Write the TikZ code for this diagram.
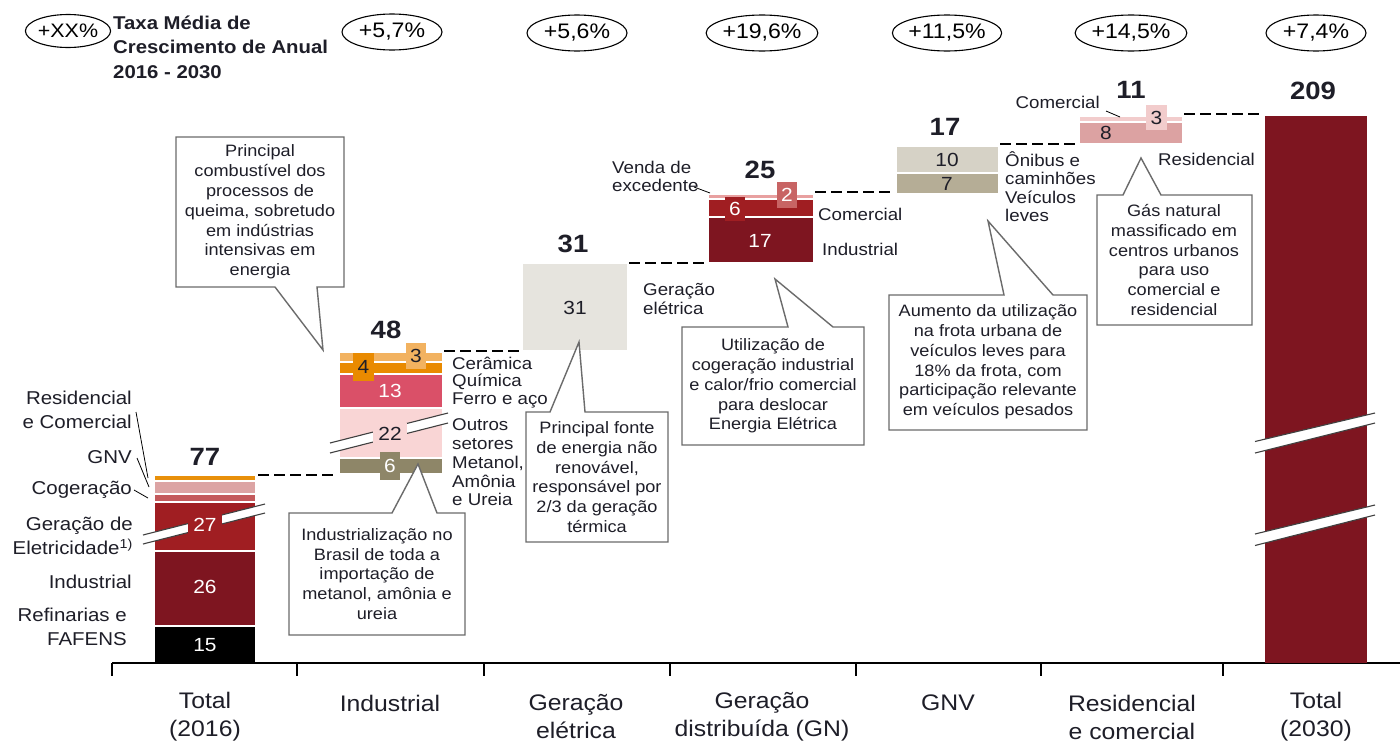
\documentclass[tikz,border=0pt]{standalone}
\usepackage{fontspec}
\setmainfont{Liberation Sans}[FakeStretch=1.1]
\usetikzlibrary{shapes.geometric}
\definecolor{txt}{HTML}{1E1E28}
\definecolor{cDark}{HTML}{7E1520}
\definecolor{cRed}{HTML}{A01E22}
\definecolor{cCog}{HTML}{C45A5C}
\definecolor{cPinkRC}{HTML}{DCA4A4}
\definecolor{cOrange}{HTML}{E8900A}
\definecolor{cOlive}{HTML}{8E8668}
\definecolor{cLtPink}{HTML}{F9D5D5}
\definecolor{cRose}{HTML}{DA5068}
\definecolor{cOrangeB}{HTML}{E98A00}
\definecolor{cLtOrange}{HTML}{F2B260}
\definecolor{cGray}{HTML}{E6E4DE}
\definecolor{cGnvA}{HTML}{D6D2C6}
\definecolor{cGnvB}{HTML}{B5AD96}
\definecolor{cResA}{HTML}{DCA2A2}
\definecolor{cResB}{HTML}{F2CCCC}
\definecolor{cGNtop}{HTML}{E8A0A0}
\definecolor{cGNbox}{HTML}{C86464}
\definecolor{cBorder}{HTML}{6B6B6B}
\newcommand\fsz[2]{\fontsize{#1}{#2}\selectfont}
\newcommand\brkband[6]{%
  \fill[white] (#1,#2) -- (#4,#5) -- (#4,#6) -- (#1,#3) -- cycle;
  \draw[brkline] (#1,#2) -- (#4,#5);
  \draw[brkline] (#1,#3) -- (#4,#6);}
\begin{document}
\begin{tikzpicture}[x=1pt,y=-1pt,
  brkline/.style={black!75,line width=1.1pt},
  lblL/.style={font=\fsz{18.6}{23.5},text=txt,align=right,anchor=east,inner sep=0pt},
  lblR/.style={font=\fsz{17}{18.5},text=txt,align=left,anchor=west,inner sep=0pt},
  cat/.style={font=\fsz{22.5}{28},text=txt,align=center,inner sep=0pt},
  tot/.style={font=\bfseries\fsz{25}{28},text=txt,inner sep=0pt},
  valw/.style={font=\fsz{19}{20},text=white,inner sep=0pt},
  vald/.style={font=\fsz{19}{20},text=txt,inner sep=0pt},
  rate/.style={ellipse,draw=black,line width=1.1pt,minimum width=100pt,minimum height=36pt,inner sep=0pt,font=\fsz{21}{24},text=black},
  calltext/.style={font=\fsz{16.5}{19.8},text=txt,align=center,inner sep=0pt},
  callbox/.style={draw=cBorder,fill=white,line width=1.4pt,line join=miter},
  dashline/.style={black,line width=1.8pt,dash pattern=on 11pt off 5pt},
  leader/.style={black,line width=0.8pt}]
\useasboundingbox (0,0) rectangle (1400,747);
\fill[white] (0,0) rectangle (1400,747);

% ---------- header ----------
\node[rate,minimum width=68pt,minimum height=33pt,font=\fsz{19.5}{22}] (rXX) at (68,31) {+XX\%};
\node[font=\bfseries\fsz{18.5}{24.5},text=txt,align=left,anchor=west,inner sep=0pt] (hdr) at (113,47) {Taxa Média de\\Crescimento de Anual\\2016 - 2030};
\node[rate] (r1) at (392,32) {+5,7\%};
\node[rate] (r2) at (577,33) {+5,6\%};
\node[rate] (r3) at (762,33) {+19,6\%};
\node[rate] (r4) at (947,33) {+11,5\%};
\node[rate] (r5) at (1131,33) {+14,5\%};
\node[rate] (r6) at (1316,33) {+7,4\%};

% ---------- axis ----------
\draw[black,line width=1.2pt] (112,663) -- (1400,663);
\foreach \tx in {112,297,484,670,856,1041,1223} {\draw[black,line width=1.2pt] (\tx,663) -- (\tx,676);}
\node[cat] (x1) at (205,717) {Total\\(2016)};
\node[cat] (x2) at (390,703) {Industrial};
\node[cat] (x3) at (576,717) {Geração\\elétrica};
\node[cat] (x4) at (762,717) {Geração\\distribuída (GN)};
\node[cat] (x5) at (948,703) {GNV};
\node[cat] (x6) at (1132,717) {Residencial\\e comercial};
\node[cat] (x7) at (1316,717) {Total\\(2030)};

% ---------- bar 1: Total 2016 ----------
\fill[cOrange] (155,476) rectangle (255,479.5);
\fill[cPinkRC] (155,482) rectangle (255,493);
\fill[cCog] (155,495) rectangle (255,500.5);
\fill[cRed] (155,502.5) rectangle (255,549.5);
\fill[cDark] (155,551.5) rectangle (255,624.5);
\fill[black] (155,626.5) rectangle (255,663);
\brkband{143}{535}{544}{265}{504}{513}
\node[valw,fill=cRed,inner xsep=5pt,inner ysep=4pt] (v27) at (205,525) {27};
\node[valw] (v26) at (205,587) {26};
\node[valw] (v15) at (205,645) {15};
\node[tot] (t77) at (205,457) {77};
\node[lblL] (lRC) at (132,410) {Residencial\\e Comercial};
\node[lblL] (lGNV) at (132,457) {GNV};
\node[lblL] (lCog) at (132,490) {Cogeração};
\node[lblL] (lGer) at (133,536) {Geração de\\Eletricidade\textsuperscript{1)}};
\node[lblL] (lInd) at (132,582) {Industrial};
\node[lblL] (lRef) at (127,627) {Refinarias e\\FAFENS};
\coordinate (pRC) at (148,478);
\coordinate (pGNV) at (149,487);
\coordinate (pCog) at (148,498);
\draw[leader] (136,412) -- (pRC);
\draw[leader] (137,458) -- (pGNV);
\draw[leader] (lCog.east) ++(2,0) -- (pCog);

% ---------- bar 2: Industrial ----------
\fill[cLtOrange] (340,353) rectangle (442,360.5);
\fill[cOrangeB] (340,363) rectangle (442,373);
\fill[cRose] (340,375) rectangle (442,407);
\fill[cLtPink] (340,409) rectangle (442,457);
\fill[cOlive] (340,459) rectangle (442,473);
\brkband{330}{443}{453}{448}{413}{423}
\fill[cLtOrange] (406,343) rectangle (426,369);
\fill[cOrangeB] (353,353) rectangle (374,381);
\fill[cOlive] (380,452) rectangle (400,480);
\node[vald] (v3i) at (416,356) {3};
\node[vald] (v4i) at (363.5,367) {4};
\node[valw] (v13) at (390,391) {13};
\node[vald,fill=cLtPink,inner xsep=5pt,inner ysep=4pt] (v22) at (390,434) {22};
\node[valw] (v6i) at (390,466) {6};
\node[tot] (t48) at (386,330) {48};
\node[lblR] (lCer) at (452,363) {Cerâmica};
\node[lblR] (lQui) at (452,382) {Química};
\node[lblR] (lFer) at (452,400) {Ferro e aço};
\node[lblR] (lOut) at (452,434) {Outros\\setores};
\node[lblR] (lMet) at (452,481) {Metanol,\\Amônia\\e Ureia};

% ---------- bar 3: Geração elétrica ----------
\fill[cGray] (523,264) rectangle (627,350);
\node[vald] (v31) at (575,308) {31};
\node[tot] (t31) at (573,244) {31};
\node[lblR] (lGe) at (643,299) {Geração\\elétrica};

% ---------- bar 4: Geração distribuída ----------
\fill[cGNtop] (709,195) rectangle (813,198);
\fill[cRed] (709,200) rectangle (813,216);
\fill[cDark] (709,218) rectangle (813,262);
\fill[cRed] (725,197) rectangle (745,221);
\fill[cGNbox] (777,182) rectangle (797,208);
\node[valw] (v6g) at (735,209) {6};
\node[valw] (v2g) at (787,195) {2};
\node[valw] (v17g) at (760,241) {17};
\node[tot] (t25) at (760,170) {25};
\node[lblR] (lCom) at (818,214) {Comercial};
\node[lblR] (lIndg) at (822,249) {Industrial};
\node[lblR] (lVen) at (612,176.5) {Venda de\\excedente};
\coordinate (pVen) at (710,193);
\draw[leader] (694,187) -- (pVen);

% ---------- bar 5: GNV ----------
\fill[cGnvA] (897,147) rectangle (998,172);
\fill[cGnvB] (897,174) rectangle (998,193);
\node[vald] (v10) at (947,160) {10};
\node[vald] (v7) at (947,184) {7};
\node[tot] (t17) at (945,127) {17};
\node[lblR] (lOni) at (1005,168) {Ônibus e\\caminhões};
\node[lblR] (lVei) at (1005,206.5) {Veículos\\leves};

% ---------- bar 6: Residencial e comercial ----------
\fill[cResB] (1080,117) rectangle (1182,121);
\fill[cResA] (1080,123) rectangle (1182,143);
\fill[cResB] (1146,105) rectangle (1167,130);
\node[vald] (v8) at (1106,133) {8};
\node[vald] (v3r) at (1156.5,118) {3};
\node[tot] (t11) at (1131,90) {11};
\node[lblR,anchor=east] (lComr) at (1100,102) {Comercial};
\node[lblR] (lRes) at (1158,159) {Residencial};
\coordinate (pComr) at (1120,117);
\draw[leader] (1106,111) -- (pComr);

% ---------- bar 7: Total 2030 ----------
\fill[cDark] (1265,116) rectangle (1367,663);
\brkband{1255}{441.5}{453}{1375}{413}{423}
\brkband{1255}{534}{545.5}{1375}{505}{515}
\node[tot] (t209) at (1313,91) {209};

% ---------- dashed connectors ----------
\coordinate (d1a) at (258,475); \coordinate (d1b) at (338,475);
\coordinate (d2a) at (444,351); \coordinate (d2b) at (522,351);
\coordinate (d3a) at (629,263); \coordinate (d3b) at (708,263);
\coordinate (d4a) at (815,192); \coordinate (d4b) at (893,192);
\coordinate (d5a) at (1000,144); \coordinate (d5b) at (1079,144);
\coordinate (d6a) at (1184,114); \coordinate (d6b) at (1264,114);
\draw[dashline] (d1a) -- (d1b);
\draw[dashline] (d2a) -- (d2b);
\draw[dashline] (d3a) -- (d3b);
\draw[dashline] (d4a) -- (d4b);
\draw[dashline] (d5a) -- (d5b);
\draw[dashline] (d6a) -- (d6b);

% ---------- callouts ----------
\draw[callbox] (176,137) -- (344,137) -- (344,287) -- (317,287) -- (323,350) -- (275,287) -- (176,287) -- cycle;
\node[calltext] (c1) at (260,212) {Principal\\combustível dos\\processos de\\queima, sobretudo\\em indústrias\\intensivas em\\energia};

\draw[callbox] (289,513) -- (392,513) -- (418,464) -- (437,513) -- (465,513) -- (465,635) -- (289,635) -- cycle;
\node[calltext] (c2) at (377,574) {Industrialização no\\Brasil de toda a\\importação de\\metanol, amônia e\\ureia};

\draw[callbox] (526,412) -- (550,412) -- (579,342) -- (585,412) -- (668,412) -- (668,542) -- (526,542) -- cycle;
\node[calltext] (c3) at (597,477) {Principal fonte\\de energia não\\renovável,\\responsável por\\2/3 da geração\\térmica};

\draw[callbox] (682,327) -- (788,327) -- (775,279) -- (833,327) -- (864,327) -- (864,445) -- (682,445) -- cycle;
\node[calltext] (c4) at (773,386) {Utilização de\\cogeração industrial\\e calor/frio comercial\\para deslocar\\Energia Elétrica};

\draw[callbox] (889,295) -- (1004,295) -- (988,221) -- (1053,295) -- (1087,295) -- (1087,430) -- (889,430) -- cycle;
\node[calltext] (c5) at (988,362) {Aumento da utilização\\na frota urbana de\\veículos leves para\\18\% da frota, com\\participação relevante\\em veículos pesados};

\draw[callbox] (1097,195) -- (1123,195) -- (1141,158) -- (1161,195) -- (1252,195) -- (1252,325) -- (1097,325) -- cycle;
\node[calltext] (c6) at (1174,260) {Gás natural\\massificado em\\centros urbanos\\para uso\\comercial e\\residencial};
\end{tikzpicture}
\end{document}
